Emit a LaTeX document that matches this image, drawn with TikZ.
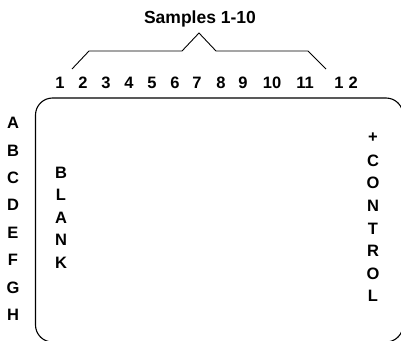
\documentclass[tikz,border=0pt]{standalone}
\usepackage{fontspec}
\setmainfont{Liberation Sans}
\begin{document}
\begin{tikzpicture}[x=1pt,y=-1pt,
  lbl/.style={font=\bfseries\fontsize{16.5}{16.5}\selectfont, inner sep=0pt, anchor=center},
  ttl/.style={font=\bfseries\fontsize{17.5}{17.5}\selectfont, inner sep=0pt, anchor=center},
  plate/.style={draw, line width=1.1pt, rounded corners=17pt},
  brace/.style={draw, line width=0.9pt}]
\useasboundingbox (0,0) rectangle (401,340);
\begin{scope}
\clip (0,0) rectangle (401,340);
% plate outline, running past the page edge on the right and bottom
\draw[plate] (35.5,98) rectangle (403,342);
\end{scope}

% title and bracket over sample columns
\node[ttl] (title) at (200,19) {Samples 1-10};
\coordinate (bl) at (72,69);
\coordinate (br) at (326,69);
\draw[brace] (bl) -- (89,51) -- (182,51) -- (199,33) -- (216,51) -- (308,51) -- (br);

% column numbers
\foreach \n/\x in {1/60,2/83,3/106,4/129,5/152,6/175,7/197,8/221,9/243,10/272,11/305}
  \node[lbl] (c\n) at (\x,82.5) {\n};
\node[lbl] (c12) at (346,82.5) {1\hspace{5pt}2};

% row letters
\foreach \r [count=\i from 0] in {A,B,C,D,E,F,G,H}
  \node[lbl] (r\r) at (13,123+27.4*\i) {\r};

% blank column
\foreach \ch [count=\i from 0] in {B,L,A,N,K}
  \node[lbl] (b\i) at (61,172.5+22.5*\i) {\ch};

% positive control column
\foreach \ch [count=\i from 0] in {+,C,O,N,T,R,O,L}
  \node[lbl] (p\i) at (373,138+22.6*\i) {\ch};
\end{tikzpicture}
\end{document}
